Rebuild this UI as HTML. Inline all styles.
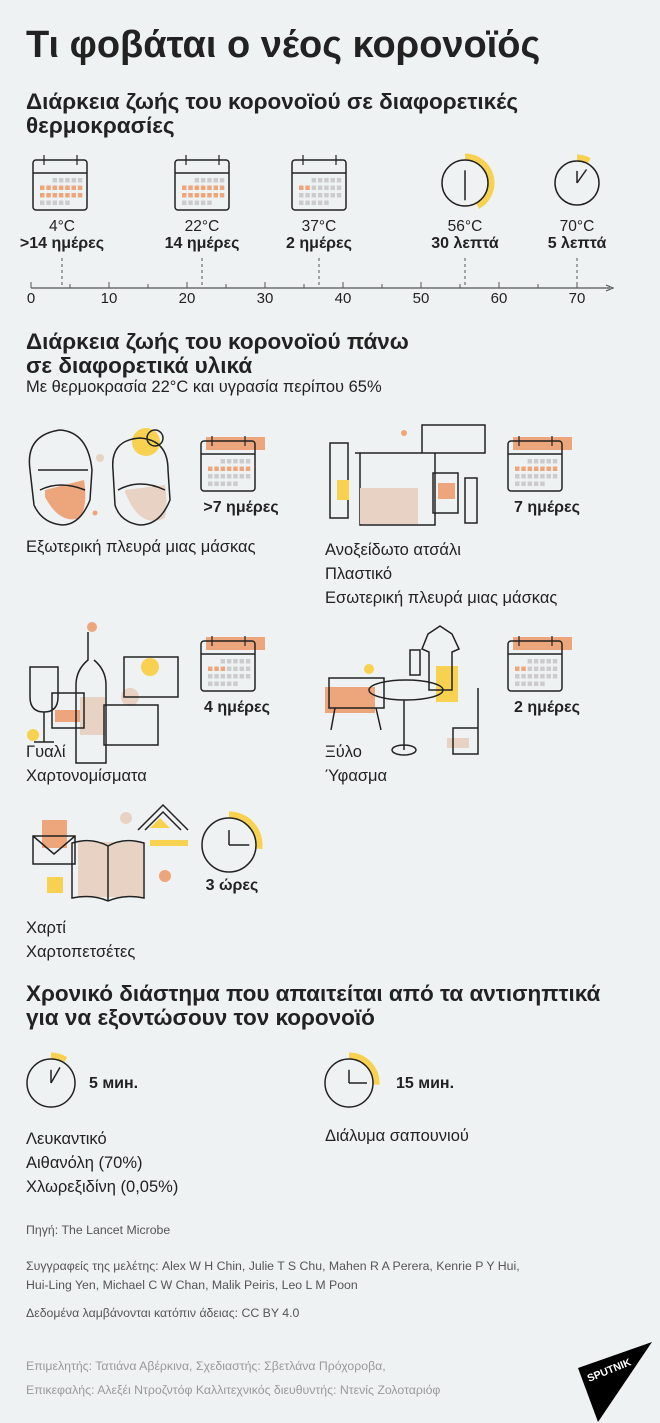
<!DOCTYPE html>
<html><head><meta charset="utf-8"><style>
body{margin:0;background:#eff2f3;width:660px;height:1423px;overflow:hidden;position:relative;font-family:"Liberation Sans","DejaVu Sans",sans-serif;color:#222}
.t{position:absolute;white-space:nowrap}
.h{font-weight:bold;font-size:22.5px;line-height:24px}
.n{font-size:16.5px}
.f{font-size:12.3px;color:#555}
.g{font-size:12.3px;color:#999}
svg{position:absolute;left:0;top:0}
</style></head><body>
<svg id="s" width="660" height="1423" viewBox="0 0 660 1423" fill="none" stroke="#222" stroke-width="1.5"></svg>
<div class="t" style="left:26px;top:24px;font-size:38px;font-weight:bold">Τι φοβάται ο νέος κορονοϊός</div>
<div class="t h" style="left:26px;top:90px">Διάρκεια ζωής του κορονοϊού σε διαφορετικές<br>θερμοκρασίες</div>
<div class="t h" style="left:26px;top:330px">Διάρκεια ζωής του κορονοϊού πάνω<br>σε διαφορετικά υλικά</div>
<div class="t n" style="left:26px;top:378px">Με θερμοκρασία 22°C και υγρασία περίπου 65%</div>
<div class="t h" style="left:26px;top:982px">Χρονικό διάστημα που απαιτείται από τα αντισηπτικά<br>για να εξοντώσουν τον κορονοϊό</div>

<div class="t n" style="left:26px;top:538px">Εξωτερική πλευρά μιας μάσκας</div>
<div class="t n" style="left:325px;top:538px;line-height:24px">Ανοξείδωτο ατσάλι<br>Πλαστικό<br>Εσωτερική πλευρά μιας μάσκας</div>
<div class="t n" style="left:26px;top:740px;line-height:24px">Γυαλί<br>Χαρτονομίσματα</div>
<div class="t n" style="left:325px;top:740px;line-height:24px">Ξύλο<br>Ύφασμα</div>
<div class="t n" style="left:26px;top:916px;line-height:24px">Χαρτί<br>Χαρτοπετσέτες</div>
<div class="t n" style="left:26px;top:1127px;line-height:24px">Λευκαντικό<br>Αιθανόλη (70%)<br>Χλωρεξιδίνη (0,05%)</div>
<div class="t n" style="left:325px;top:1127px">Διάλυμα σαπουνιού</div>

<div class="t f" style="left:26px;top:1223px">Πηγή: The Lancet Microbe</div>
<div class="t f" style="left:26px;top:1257px;line-height:19px">Συγγραφείς της μελέτης: Alex W H Chin, Julie T S Chu, Mahen R A Perera, Kenrie P Y Hui,<br>Hui-Ling Yen, Michael C W Chan, Malik Peiris, Leo L M Poon</div>
<div class="t f" style="left:26px;top:1306px">Δεδομένα λαμβάνονται κατόπιν άδειας: CC BY 4.0</div>
<div class="t g" style="left:26px;top:1359px">Επιμελητής: Τατιάνα Αβέρκινα, Σχεδιαστής: Σβετλάνα Πρόχοροβα,</div>
<div class="t g" style="left:26px;top:1383px">Επικεφαλής: Αλεξέι Ντροζντόφ Καλλιτεχνικός διευθυντής: Ντενίς Ζολοταριόφ</div>

<script>
var s=document.getElementById('s'),o='';
function T(x,y,t,b,sz,a){o+='<text x="'+x+'" y="'+y+'" stroke="none" fill="#222" font-size="'+(sz||15)+'" font-weight="'+(b?'bold':'normal')+'" text-anchor="'+(a||'middle')+'" font-family="Liberation Sans, DejaVu Sans, sans-serif">'+t+'</text>';}
function cal(x,y,n,hdr,r0){var w=54,h=50;
 if(hdr)o+='<rect x="'+(x+5)+'" y="'+(y-4)+'" width="'+(w+5)+'" height="13" fill="#eda57c" stroke="none"/>';
 o+='<rect x="'+x+'" y="'+y+'" width="'+w+'" height="'+h+'" rx="3"/><line x1="'+x+'" y1="'+(y+13)+'" x2="'+(x+w)+'" y2="'+(y+13)+'"/>';
 o+='<line x1="'+(x+11)+'" y1="'+(y-5)+'" x2="'+(x+11)+'" y2="'+(y+5)+'" stroke-width="1.2"/><line x1="'+(x+44)+'" y1="'+(y-5)+'" x2="'+(x+44)+'" y2="'+(y+5)+'" stroke-width="1.2"/>';
 var rows=[[2,6],[0,6],[0,6],[0,4]],k=0;
 for(var r=0;r<4;r++)for(var c=rows[r][0];c<=rows[r][1];c++){var col='#ccc';if(r>0){if(k<n)col='#eda57c';k++;}
 o+='<rect x="'+(x+7+c*6.3)+'" y="'+(y+18+r*7.5)+'" width="4.5" height="4.5" fill="'+col+'" stroke="none"/>';}
}
function clk(cx,cy,r,fr,ha,ma){var R=r+3.5,a=fr*2*Math.PI;var ex=cx+R*Math.sin(a),ey=cy-R*Math.cos(a);
 o+='<path d="M'+cx+' '+(cy-R)+' A'+R+' '+R+' 0 '+(fr>0.5?1:0)+' 1 '+ex.toFixed(1)+' '+ey.toFixed(1)+'" stroke="#f7d14f" stroke-width="6"/>';
 o+='<circle cx="'+cx+'" cy="'+cy+'" r="'+r+'"/>';
 function hand(d,l){var b=d*Math.PI/180;o+='<line x1="'+cx+'" y1="'+cy+'" x2="'+(cx+l*Math.sin(b)).toFixed(1)+'" y2="'+(cy-l*Math.cos(b)).toFixed(1)+'"/>';}
 hand(ha,r*0.55);hand(ma,r*0.75);}
cal(33,160,14);cal(175,160,14);cal(292,160,2);
clk(465,183,23,0.42,0,180);clk(577,183,22,0.08,0,35);
var L=[[62,'4°C','>14 ημέρες'],[202,'22°C','14 ημέρες'],[319,'37°C','2 ημέρες'],[465,'56°C','30 λεπτά'],[577,'70°C','5 λεπτά']];
L.forEach(function(l){T(l[0],231,l[1],0,15.5);T(l[0],248,l[2],1,16);o+='<line x1="'+l[0]+'" y1="258" x2="'+l[0]+'" y2="288" stroke-dasharray="3 3" stroke-width="1" stroke="#555"/>';});
o+='<line x1="31" y1="288" x2="610" y2="288" stroke="#555" stroke-width="1.2"/><path d="M606 285 L613 288 L606 291" stroke="#555" stroke-width="1.2"/>';
for(var i=0;i<=70;i+=5){var x=31+i*7.8;o+='<line x1="'+x+'" y1="'+(i%10?284:282)+'" x2="'+x+'" y2="288" stroke="#555" stroke-width="1"/>';if(i%10==0)T(x,303,i,0,15);}
cal(201,441,7,1);T(241,512,'>7 ημέρες',1,16);
cal(508,441,7,1);T(547,512,'7 ημέρες',1,16);
cal(201,641,3,1);T(237,712,'4 ημέρες',1,16);
cal(508,641,2,1);T(547,712,'2 ημέρες',1,16);
clk(229,845,27,0.27,0,90);T(232,890,'3 ώρες',1,16);
clk(51,1083,24,0.09,0,30);T(89,1088,'5 мин.',1,16,'start');
clk(349,1083,24,0.26,0,90);T(396,1088,'15 мин.',1,16,'start');
o+='<path d="M45 497 Q60 525 80 518 Q88 505 84 480 L45 490Z" fill="#eda57c" stroke="none"/><path d="M125 492 Q140 530 165 518 Q168 505 165 485 L125 490Z" fill="#e8d2c4" stroke="none"/>';
o+='<circle cx="146" cy="442" r="14" fill="#f7d14f" stroke="none"/><circle cx="100" cy="458" r="4" fill="#e8d2c4" stroke="none"/><circle cx="95" cy="513" r="2.5" fill="#eda57c" stroke="none"/>';
o+='<path d="M30 470 Q25 435 60 430 Q88 432 92 470 L90 500 Q80 525 62 525 Q42 523 34 505Z M38 470 L88 470 M40 490 Q60 480 85 490"/>';
o+='<path d="M113 470 Q110 440 140 438 Q168 440 168 470 L170 500 Q160 525 140 525 Q120 522 115 505Z M118 490 Q140 478 165 490"/><circle cx="155" cy="438" r="8"/>';
o+='<path d="M330 443 h18 v75 h-18z M360 453 h75 v72 h-75z M355 453 h85 M422 425 h63 v28 h-63z M433 473 h25 v40 h-25z M465 478 h12 v45 h-12z"/><rect x="360" y="488" width="58" height="36" fill="#e8d2c4" stroke="none"/><rect x="337" y="480" width="12" height="20" fill="#f7d14f" stroke="none"/><rect x="438" y="483" width="17" height="16" fill="#eda57c" stroke="none"/><circle cx="404" cy="433" r="3" fill="#eda57c" stroke="none"/>';
o+='<rect x="55" y="710" width="30" height="12" fill="#eda57c" stroke="none"/><rect x="80" y="697" width="25" height="38" fill="#e8d2c4" stroke="none"/><circle cx="92" cy="627" r="5" fill="#eda57c" stroke="none"/><circle cx="33" cy="735" r="6" fill="#f7d14f" stroke="none"/><circle cx="150" cy="667" r="9" fill="#f7d14f" stroke="none"/><circle cx="130" cy="697" r="9" fill="#e8d2c4" stroke="none"/>';
o+='<path d="M30 667 h28 v30 q0 15-14 15 q-14 0-14-15z M44 712 v30 M34 742 h20 M52 693 h32 v35 h-32z M88 632 v28 q-12 10-12 25 v78 h30 v-78 q0-15-12-25 M124 657 h54 v40 h-54z M104 705 h54 v40 h-54z"/>';
o+='<rect x="325" y="687" width="50" height="26" fill="#eda57c" stroke="none"/><rect x="436" y="666" width="22" height="36" fill="#f7d14f" stroke="none"/><rect x="447" y="738" width="22" height="10" fill="#e8d2c4" stroke="none"/><circle cx="369" cy="669" r="5" fill="#f7d14f" stroke="none"/>';
o+='<path d="M329 678 h55 v30 h-55z M335 708 l-4 22 M376 708 l5 22 M369 690 a37 10 0 1 0 74 0 a37 10 0 1 0 -74 0 M404 700 v50 M392 750 a12 5 0 1 0 24 0 a12 5 0 1 0 -24 0 M428 634 l12-8 l12 8 l7 15 l-7 3 v38 h-23 v-38 l-7-3z M478 688 v66 M453 728 h25 v26 h-25z M410 675 h10 v-25 h-10z"/>';
o+='<rect x="42" y="820" width="25" height="28" fill="#eda57c" stroke="none"/><rect x="47" y="877" width="16" height="16" fill="#f7d14f" stroke="none"/><rect x="78" y="842" width="65" height="55" fill="#e8d2c4" stroke="none"/><circle cx="126" cy="818" r="6" fill="#e8d2c4" stroke="none"/><circle cx="165" cy="876" r="6" fill="#eda57c" stroke="none"/><path d="M150 840 h38 v6 h-38z" fill="#f7d14f" stroke="none"/><path d="M160 818 l10 10 l-20 0z" fill="#f7d14f" stroke="none"/>';
o+='<path d="M33 836 h42 v28 h-42z M33 836 l21 18 l21-18 M72 843 q20-6 36 3 q16-9 36-3 v55 q-20-4-36 3 q-16-7-36-3z M108 846 v55 M138 830 l25-25 l25 25 M145 830 l18-18 l18 18"/>';
s.innerHTML=o;
</script>
<svg style="left:576px;top:1340px" width="84" height="83" viewBox="0 0 84 83"><path d="M2 28 L76 2 L22 82 Z" fill="#000"/><text x="13" y="42" transform="rotate(-22 13 42)" fill="#fff" font-size="10.5" font-weight="bold" font-family="Liberation Sans, sans-serif">SPUTNIK</text></svg>
</body></html>
